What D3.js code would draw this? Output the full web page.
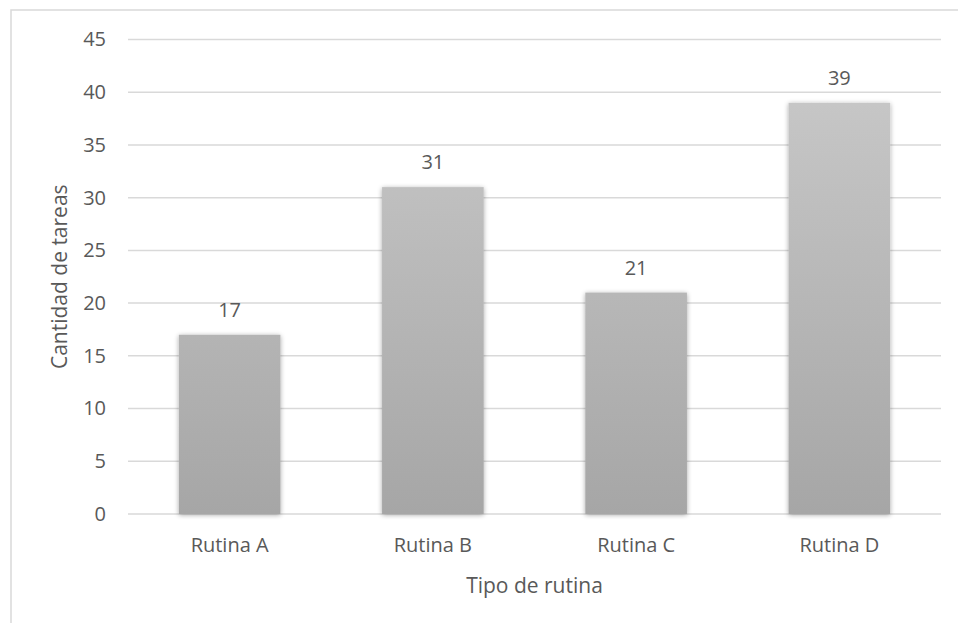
<!DOCTYPE html>
<html>
<head>
<meta charset="utf-8">
<script src="https://cdn.jsdelivr.net/npm/d3@7/dist/d3.min.js"></script>
<style>
  body { margin: 0; background: #fff; }
  svg { display: block; }
  text { font-family: "Open Sans", "Noto Sans", sans-serif; fill: #595959; }
</style>
</head>
<body>
<svg id="chart" width="958" height="623"></svg>
<script>
const categories = ["Rutina A", "Rutina B", "Rutina C", "Rutina D"];
const values = [17, 31, 21, 39];
const yTicks = [0, 5, 10, 15, 20, 25, 30, 35, 40, 45];
const xTitle = "Tipo de rutina";
const yTitle = "Cantidad de tareas";

const svg = d3.select("#chart");
const margin = { left: 128, right: 17, top: 39.5, bottom: 109 };
const W = 958, H = 623;
const FONT = '"Open Sans", "Noto Sans", sans-serif';

// outer frame
svg.append("path")
  .attr("d", `M11,623 L11,10 L958,10`)
  .attr("fill", "none")
  .attr("stroke", "#d9d9d9")
  .attr("stroke-width", 1.5);

const x = d3.scaleBand().domain(categories)
  .range([margin.left, W - margin.right]).paddingInner(0.5).paddingOuter(0.25);
const y = d3.scaleLinear().domain([0, 45]).range([H - margin.bottom, margin.top]);

const defs = svg.append("defs");
const grad = defs.append("linearGradient").attr("id", "barFill")
  .attr("x1", 0).attr("x2", 0)
  .attr("gradientUnits", "userSpaceOnUse")
  .attr("y1", y(45)).attr("y2", y(0));
grad.append("stop").attr("offset", "0%").attr("stop-color", "#cbcbcb");
grad.append("stop").attr("offset", "100%").attr("stop-color", "#a6a6a6");

const shadow = defs.append("filter").attr("id", "soft")
  .attr("x", "-10%").attr("y", "-10%").attr("width", "120%").attr("height", "120%");
shadow.append("feGaussianBlur").attr("in", "SourceAlpha").attr("stdDeviation", 2.5).attr("result", "b");
shadow.append("feOffset").attr("in", "b").attr("dx", 0).attr("dy", 1).attr("result", "o");
shadow.append("feComponentTransfer").attr("in", "o").attr("result", "s")
  .append("feFuncA").attr("type", "linear").attr("slope", 0.35);
const merge = shadow.append("feMerge");
merge.append("feMergeNode").attr("in", "s");
merge.append("feMergeNode").attr("in", "SourceGraphic");

// horizontal gridlines
svg.append("g").selectAll("line").data(yTicks).join("line")
  .attr("x1", margin.left).attr("x2", W - margin.right)
  .attr("y1", d => y(d)).attr("y2", d => y(d))
  .attr("stroke", "#d9d9d9").attr("stroke-width", 1.5);

// y tick labels
const yAxis = d3.axisLeft(y).tickValues(yTicks).tickSize(0).tickPadding(0);
const gy = svg.append("g").attr("transform", `translate(106,0)`).call(yAxis);
gy.select(".domain").remove();
gy.selectAll("text").attr("font-size", 20).style("fill", "#595959").style("font-family", FONT);

// bars
svg.append("g").selectAll("rect").data(values).join("rect")
  .attr("x", (d, i) => x(categories[i]))
  .attr("width", x.bandwidth())
  .attr("y", d => y(d))
  .attr("height", d => y(0) - y(d))
  .attr("fill", "url(#barFill)")
  .attr("filter", "url(#soft)");

// value labels
svg.append("g").selectAll("text").data(values).join("text")
  .attr("x", (d, i) => x(categories[i]) + x.bandwidth() / 2)
  .attr("y", d => y(d) - 18)
  .attr("text-anchor", "middle")
  .attr("font-size", 20)
  .text(d => d);

// x labels
const xAxis = d3.axisBottom(x).tickSize(0).tickPadding(0);
const gx = svg.append("g").attr("transform", `translate(0,${y(0) + 24})`).call(xAxis);
gx.select(".domain").remove();
gx.selectAll("text").attr("font-size", 20).attr("dy", "0.71em").style("fill", "#595959")
  .style("font-family", FONT);

// axis titles
svg.append("text")
  .attr("x", (margin.left + W - margin.right) / 2)
  .attr("y", 593)
  .attr("text-anchor", "middle")
  .attr("font-size", 21)
  .text(xTitle);

svg.append("text")
  .attr("transform", `translate(67,${(y(0) + y(45)) / 2}) rotate(-90)`)
  .attr("text-anchor", "middle")
  .attr("font-size", 21)
  .text(yTitle);
</script>
</body>
</html>
